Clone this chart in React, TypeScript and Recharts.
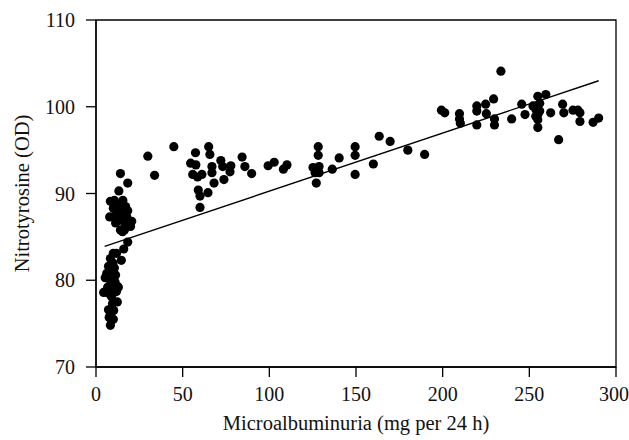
import { ScatterChart, Scatter, XAxis, YAxis, ReferenceArea, Label } from "recharts";

// [microalbuminuria, nitrotyrosine]
const lowGroup: number[][] = [
  [5.3, 80.3], [4.4, 78.6], [6.7, 79.2], [7.2, 76.6], [7.6, 75.7], [8.3, 74.8], [9, 75.4],
  [10, 75.5], [7.2, 81.6], [8.3, 82.5], [10, 83.1], [11.8, 83.1], [11.3, 80.6], [12.3, 79.3],
  [10.6, 78.7], [12.3, 77.5], [9, 78.1], [7.2, 78.5], [9, 80], [10.6, 81.4], [7.6, 81],
  [9.5, 77.3], [8.3, 76], [11.8, 78.7], [12.9, 79.2], [8.5, 79.6], [9.8, 82], [6.2, 80.8],
  [10.2, 76.5], [11, 79.8],
];
const midGroup: number[][] = [
  [8.3, 89.1], [10.6, 89.2], [10, 88.3], [7.9, 87.3], [10.2, 87.3], [12, 87.7], [15.5, 89.2],
  [17.1, 88.5], [18.3, 88], [13.2, 86.9], [14.1, 85.8], [15.3, 85.6], [18.8, 86.8], [20.6, 86.8],
  [19.9, 86.2], [17.8, 87.3], [16.4, 85.8], [11.3, 86.6], [16.4, 87], [18.3, 84.4], [16, 83.6],
  [14.6, 82.3], [13.2, 90.3], [14.1, 92.3], [18.3, 91.2], [12.5, 88.6], [15, 87.8], [17, 86.4],
];
const plateauGroup: number[][] = [
  [29.9, 94.3], [33.8, 92.1], [44.9, 95.4], [54.6, 93.5], [55.8, 92.2], [57.4, 94.7], [57.6, 93.3],
  [58.6, 91.9], [59, 90.4], [60, 89.7], [60, 88.4], [61.1, 92.2], [64.6, 90.1], [65, 95.4],
  [65.7, 94.5], [66.9, 93.1], [66.9, 92.4], [68.1, 91.2], [72, 93.8], [73.1, 93.1], [73.8, 91.6],
  [77.8, 93.2], [77.3, 92.5], [84.3, 94.2], [85.9, 93.1], [89.8, 92.3], [99.3, 93.2], [102.8, 93.6],
  [108.1, 92.8], [110.2, 93.3],
];
const riseGroup: number[][] = [
  [125.2, 93], [126.4, 92.4], [127.1, 91.2], [128.2, 95.4], [128.2, 94.4], [128.7, 93.1],
  [128.7, 92.4], [127.5, 92.7], [136.3, 92.8], [140.3, 94.1], [149.5, 95.4], [149.5, 94.4],
  [149.5, 92.2], [160, 93.4], [163.4, 96.6], [169.7, 96], [179.9, 95], [189.6, 94.5],
];
const highGroup: number[][] = [
  [199.3, 99.6], [201.2, 99.3], [209.7, 99.2], [209.7, 98.6], [210.2, 98.1], [219.7, 100.1],
  [219.7, 99.5], [219.7, 97.9], [224.8, 100.3], [225.2, 99.2], [229.4, 100.9], [229.9, 98.6],
  [229.9, 97.9], [233.6, 104.1], [239.8, 98.6], [245.6, 100.3], [247.5, 99.1], [252.1, 100.1],
  [253.7, 99.7], [254.9, 101.2], [256, 100.4], [254.9, 99.1], [254.9, 98.5], [254.9, 97.6],
  [253.7, 98.9], [256, 99.5], [259.5, 101.4], [262.3, 99.3], [266.9, 96.2], [269.2, 100.3],
  [269.9, 99.3], [275.2, 99.6], [278, 99.6], [279.2, 99.3], [279.2, 98.3], [286.8, 98.2],
  [290, 98.7],
];
const fitLine: number[][] = [[5, 83.9], [290, 103]];

const xTicks = [0, 50, 100, 150, 200, 250, 300];
const yTicks = [70, 80, 90, 100, 110];

const toPts = (arr: number[][]) => arr.map(([x, y]) => ({ x, y }));
const points = toPts([...lowGroup, ...midGroup, ...plateauGroup, ...riseGroup, ...highGroup]);

// no body margin, no scrollbars
document.body.style.margin = "0";
document.body.style.overflow = "hidden";
document.documentElement.style.overflow = "hidden";

const font = "'Liberation Serif', 'DejaVu Serif', serif";
const tickStyle = { fill: "#111", fontFamily: font, fontSize: 20 };
const titleStyle = { fill: "#111", fontFamily: font, fontSize: 20.5 };

const Dot = (p: any) => <circle cx={p.cx} cy={p.cy} r={4.6} fill="#000" />;

export default function App() {
  return (
    <div style={{ width: 629, height: 440, overflow: "hidden" }}>
      <ScatterChart width={629} height={440} margin={{ top: 20, right: 13, bottom: 0, left: 0 }}>
        <XAxis
          type="number"
          dataKey="x"
          domain={[0, 300]}
          ticks={xTicks}
          height={73}
          tickSize={10}
          tickMargin={10}
          axisLine={{ stroke: "#000", strokeWidth: 1.3 }}
          tickLine={{ stroke: "#000", strokeWidth: 1.3 }}
          tick={tickStyle}
        >
          <Label
            value="Microalbuminuria (mg per 24 h)"
            position="insideBottom"
            offset={10}
            style={titleStyle}
          />
        </XAxis>
        <YAxis
          type="number"
          dataKey="y"
          domain={[70, 110]}
          ticks={yTicks}
          width={96}
          tickSize={10}
          tickMargin={11}
          axisLine={{ stroke: "#000", strokeWidth: 1.3 }}
          tickLine={{ stroke: "#000", strokeWidth: 1.3 }}
          tick={tickStyle}
        >
          <Label
            value="Nitrotyrosine (OD)"
            angle={-90}
            position="insideLeft"
            offset={22}
            style={{ ...titleStyle, textAnchor: "middle" }}
          />
        </YAxis>
        <ReferenceArea x1={0} x2={300} y1={70} y2={110} fill="none" stroke="#000" strokeWidth={1.3} />
        <Scatter data={points} shape={Dot} isAnimationActive={false} />
        <Scatter
          data={toPts(fitLine)}
          line={{ stroke: "#000", strokeWidth: 1.4 }}
          shape={() => <g />}
          isAnimationActive={false}
        />
      </ScatterChart>
    </div>
  );
}
